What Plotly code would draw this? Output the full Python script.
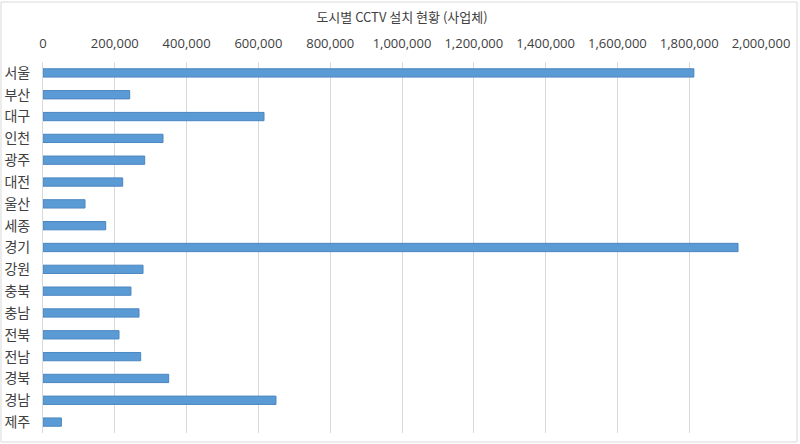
import plotly.graph_objects as go

cities = ["서울", "부산", "대구", "인천", "광주", "대전", "울산", "세종", "경기",
          "강원", "충북", "충남", "전북", "전남", "경북", "경남", "제주"]
values = [1813000, 241500, 615600, 334300, 283300, 222000, 117000, 174700, 1936000,
          278600, 245000, 267400, 211700, 272100, 350100, 649000, 51200]
tick_vals = [0, 200000, 400000, 600000, 800000, 1000000, 1200000, 1400000, 1600000, 1800000, 2000000]
tick_text = ["0", "200,000", "400,000", "600,000", "800,000", "1,000,000", "1,200,000",
             "1,400,000", "1,600,000", "1,800,000", "2,000,000"]
title = "도시별 CCTV 설치 현황 (사업체)"

fig = go.Figure(go.Bar(
    y=cities, x=values, orientation="h", width=0.38,
    marker=dict(color="#5B9BD5", line=dict(color="#4A86C0", width=1)),
))

fig.update_layout(
    width=800, height=444,
    margin=dict(l=43, r=39, t=62, b=11),
    paper_bgcolor="white", plot_bgcolor="white",
    showlegend=False,
    title=dict(text=title, x=0.5, xref="paper", xanchor="center", y=1 - 17/444, yanchor="middle",
               font=dict(family="Noto Sans CJK KR", size=13, color="#404040")),
    font=dict(family="Noto Sans CJK KR", color="#404040"),
)
fig.update_xaxes(
    side="top", range=[0, 2000000], tickvals=tick_vals, ticktext=tick_text,
    showgrid=True, gridcolor="#D9D9D9", gridwidth=1, zeroline=False,
    tickfont=dict(family="Open Sans", size=13, color="#404040"), ticks="",
    showline=False, fixedrange=True, ticklabelstandoff=10, automargin=False,
)
fig.update_yaxes(
    autorange="reversed", categoryorder="array", categoryarray=cities,
    tickfont=dict(family="Noto Sans CJK KR", size=14, color="#404040"),
    ticks="", showline=True, linecolor="#D9D9D9", linewidth=1, showgrid=False,
    ticklabelstandoff=9, automargin=False,
)
fig.add_shape(type="rect", xref="paper", yref="paper",
              x0=-42/718, x1=1 + 36/718, y0=-9/371, y1=1 + 60/371,
              line=dict(color="#D9D9D9", width=1), fillcolor="rgba(0,0,0,0)", layer="below")

fig.write_html("out.html")
